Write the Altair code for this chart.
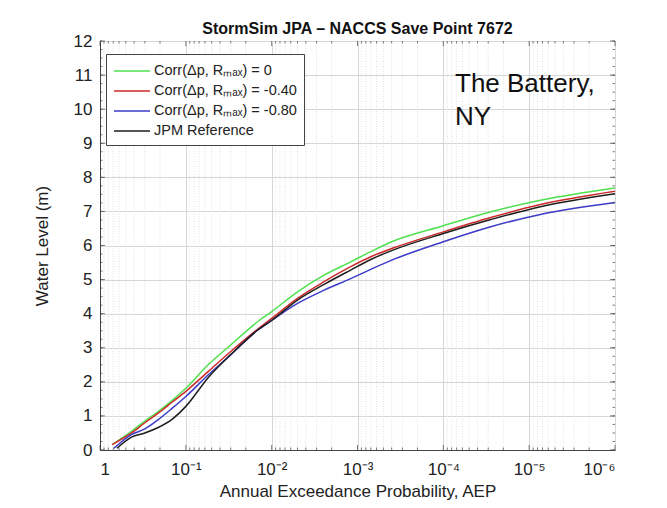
import altair as alt
import pandas as pd

# ---- data ----
series_names = [
    "Corr(Δp, Rₘₐₓ) = 0",
    "Corr(Δp, Rₘₐₓ) = -0.40",
    "Corr(Δp, Rₘₐₓ) = -0.80",
    "JPM Reference",
]
series_colors = ["#4ee04e", "#cc2a2a", "#3b3bc8", "#1e1e1e"]

aep_common = [0.43, 0.30, 0.21, 0.145, 0.10, 0.055, 0.03, 0.0145, 0.01, 0.005,
              0.00245, 0.0012, 0.0007, 0.0004, 1e-4, 2.8e-5, 7.4e-6, 1e-6]

aep_green = [0.72] + aep_common
lvl_green = [0.16, 0.55, 0.85, 1.13, 1.45, 1.81, 2.50, 3.08, 3.77, 4.06, 4.64,
             5.13, 5.52, 5.82, 6.11, 6.58, 6.99, 7.33, 7.69]

aep_red = [0.72] + aep_common
lvl_red = [0.16, 0.50, 0.80, 1.08, 1.40, 1.72, 2.30, 2.89, 3.55, 3.86, 4.45,
           4.94, 5.38, 5.67, 5.91, 6.40, 6.82, 7.20, 7.59]

aep_blue = [0.69] + aep_common
lvl_blue = [0.05, 0.45, 0.62, 0.89, 1.22, 1.57, 2.20, 2.79, 3.52, 3.80, 4.30,
            4.69, 5.03, 5.30, 5.57, 6.11, 6.55, 6.91, 7.26]

aep_black = [0.635] + aep_common
lvl_black = [0.05, 0.38, 0.50, 0.66, 0.90, 1.28, 2.12, 2.80, 3.52, 3.80, 4.40,
             4.86, 5.28, 5.59, 5.85, 6.35, 6.76, 7.14, 7.52]

major_x = [1, 1e-1, 1e-2, 1e-3, 1e-4, 1e-5, 1e-6]
minor_x = [k * 10.0 ** (-n) for n in range(1, 7) for k in range(2, 10)]
major_y = list(range(0, 13))
minor_y = [i * 0.25 for i in range(0, 49)]

title_text = "StormSim JPA – NACCS Save Point 7672"
x_title = "Annual Exceedance Probability, AEP"
y_title = "Water Level (m)"
annotation = "The Battery,\nNY"

rows = []
for name, xs, ys in zip(series_names,
                        [aep_green, aep_red, aep_blue, aep_black],
                        [lvl_green, lvl_red, lvl_blue, lvl_black]):
    for i, (a, w) in enumerate(zip(xs, ys)):
        rows.append({"series": name, "aep": a, "level": w, "idx": i})
df = pd.DataFrame(rows)

W, H = 515, 409
FONT = "Liberation Sans"

xscale = alt.Scale(type="log", domain=[1e-6, 1], reverse=True)
yscale = alt.Scale(domain=[0, 12], nice=False)

label_expr = ("datum.value >= 0.99 ? '1' : '10' + "
              "['⁻¹','⁻²','⁻³','⁻⁴','⁻⁵','⁻⁶'][round(-log(datum.value)/LN10)-1]")

xaxis = alt.Axis(values=major_x, labelExpr=label_expr, title=x_title,
                 grid=True, gridColor="#d6d6d6", ticks=False,
                 labelPadding=11, titlePadding=6)
yaxis = alt.Axis(values=major_y, title=y_title, grid=True,
                 gridColor="#d6d6d6", ticks=False,
                 labelPadding=8, titlePadding=22)

minor_grid = alt.Chart(pd.DataFrame({"aep": minor_x})).mark_rule(
    color="#e2e2e2", strokeWidth=1, strokeDash=[1, 1.5]
).encode(x=alt.X("aep:Q", scale=xscale, axis=xaxis))

lines = alt.Chart(df).mark_line(strokeWidth=1.5, interpolate="monotone").encode(
    x=alt.X("aep:Q", scale=xscale, axis=xaxis),
    y=alt.Y("level:Q", scale=yscale, axis=yaxis),
    color=alt.Color("series:N",
                    scale=alt.Scale(domain=series_names, range=series_colors),
                    sort=series_names,
                    legend=alt.Legend(title=None, orient="none", legendX=6, legendY=13,
                                      symbolType="M-1,0H3", symbolSize=324,
                                      symbolStrokeWidth=1.5, labelFontSize=14.5,
                                      labelFont=FONT, labelColor="#222",
                                      fillColor="white", strokeColor="#444",
                                      padding=7, rowPadding=3, labelOffset=21,
                                      offset=0)),
    order="idx:Q",
)

def xticks(vals, size, top):
    return alt.Chart(pd.DataFrame({"aep": vals})).mark_tick(
        color="#444", thickness=1, size=size
    ).encode(x=alt.X("aep:Q", scale=xscale, axis=xaxis),
             y=alt.value(size / 2 if top else H - size / 2))

def yticks(vals, size, right):
    return alt.Chart(pd.DataFrame({"level": vals})).mark_tick(
        color="#444", thickness=1, size=size
    ).encode(y=alt.Y("level:Q", scale=yscale, axis=yaxis),
             x=alt.value(W - size / 2 if right else size / 2))

ticks = [xticks(major_x, 5, False), xticks(minor_x, 2.5, False),
         xticks(major_x, 5, True), xticks(minor_x, 2.5, True),
         yticks(major_y, 5, False), yticks(minor_y, 2.5, False),
         yticks(major_y, 5, True), yticks(minor_y, 2.5, True)]

note = alt.Chart(pd.DataFrame({"t": [annotation]})).mark_text(
    align="left", baseline="alphabetic", fontSize=26, font=FONT,
    color="#111", lineBreak="\n", lineHeight=33
).encode(x=alt.value(355), y=alt.value(51), text="t:N")

chart = alt.layer(minor_grid, lines, *ticks, note).properties(
    width=W, height=H,
    title=alt.Title(title_text, fontSize=16, font=FONT, fontWeight="bold",
                    color="#111", anchor="middle", offset=-5),
    autosize=alt.AutoSizeParams(type="none"),
    padding={"left": 92, "top": 33, "right": 40, "bottom": 50},
    background="white",
).configure_axis(
    labelFont=FONT, titleFont=FONT, labelFontSize=17, titleFontSize=17,
    labelColor="#222", titleColor="#222", titleFontWeight="normal",
    domainColor="#444",
).configure_view(stroke="#444", strokeWidth=1)

chart.save("out.html", embed_options={"renderer": "svg", "actions": False})
